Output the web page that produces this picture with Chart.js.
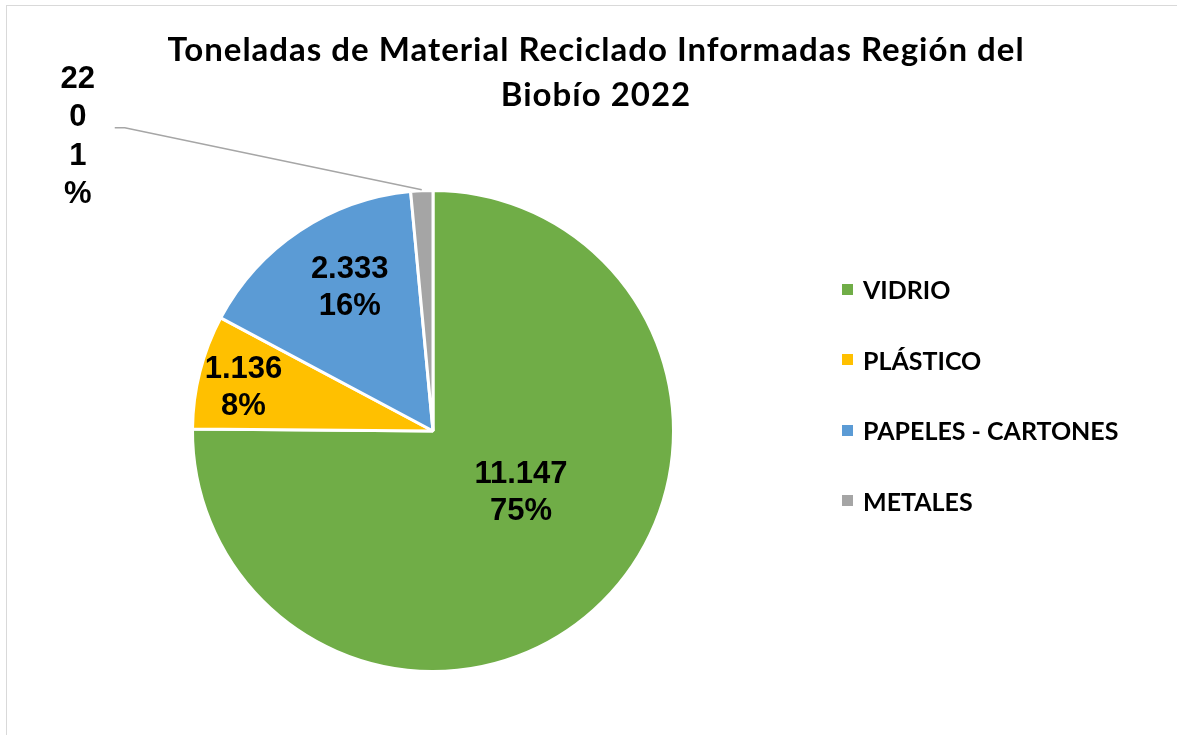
<!DOCTYPE html>
<html>
<head>
<meta charset="utf-8">
<script src="https://cdn.jsdelivr.net/npm/chart.js@4.4.1/dist/chart.umd.min.js"></script>
<style>
  html, body { margin: 0; padding: 0; background: #fff; overflow: hidden; }
  #wrap { position: relative; width: 1177px; height: 735px; }
  #frame { position: absolute; left: 6px; top: 5px; width: 1300px; height: 900px; border: 1px solid #d9d9d9; }
  #title { position: absolute; left: 0; top: 26px; width: 1192px; text-align: center; font: bold 33px Lato, sans-serif; letter-spacing: 1px; line-height: 45px; color: #000; }
  #legend { position: absolute; left: 842px; top: 0; font: bold 25px Lato, sans-serif; color: #000; }
  .item { position: absolute; left: 0; height: 30px; display: flex; align-items: center; white-space: nowrap; }
  .box { width: 11px; height: 11px; margin-right: 10px; }
  canvas { position: absolute; left: 0; top: 0; }
</style>
</head>
<body>
<div id="wrap">
  <div id="frame"></div>
  <canvas id="myChart" width="1177" height="735"></canvas>
  <div id="title">Toneladas de Material Reciclado Informadas Región del<br>Biobío 2022</div>
  <div id="legend"></div>
</div>
<script>
// data
var categories = ['VIDRIO', 'PLÁSTICO', 'PAPELES - CARTONES', 'METALES'];
var toneladas = [11147, 1136, 2333, 220];
var colors = ['#70AD47', '#FFC000', '#5B9BD5', '#A5A5A5'];

function fmtMiles(v) {
    return String(v).replace(/\B(?=(\d{3})+(?!\d))/g, '.');
}

// html legend
var legendEl = document.getElementById('legend');
var legendRows = [289, 359.5, 430, 500.5];
categories.forEach(function(name, i) {
    var row = document.createElement('div');
    row.className = 'item';
    row.style.top = (legendRows[i] - 15) + 'px';
    row.innerHTML = '<span class="box" style="background:' + colors[i] + '"></span><span>' + name + '</span>';
    legendEl.appendChild(row);
});

// labels drawn on the slices (value + percent)
var sliceLabels = {
    id: 'sliceLabels',
    afterDatasetsDraw: function(chart, args, opts) {
        var ctx = chart.ctx;
        var meta = chart.getDatasetMeta(0);
        var values = chart.data.datasets[0].data;
        var sum = values.reduce(function(a, b) { return a + b; }, 0);
        ctx.save();
        ctx.font = opts.font;
        ctx.fillStyle = '#000';
        ctx.textAlign = 'center';
        ctx.textBaseline = 'middle';
        meta.data.forEach(function(arc, i) {
            var p = opts.placement[i];
            var lines = [fmtMiles(values[i]), Math.round(values[i] * 100 / sum) + '%'];
            var mid = (arc.startAngle + arc.endAngle) / 2;
            var cx, cy, lh = opts.lineHeight;
            if (p.outside) {
                // leader line from the slice edge to the label
                var ax = arc.x + Math.cos(mid) * (arc.outerRadius + 1);
                var ay = arc.y + Math.sin(mid) * (arc.outerRadius + 1);
                var ex = ax + p.elbow[0], ey = ay + p.elbow[1];
                ctx.strokeStyle = '#a6a6a6';
                ctx.lineWidth = 1.5;
                ctx.beginPath();
                ctx.moveTo(ax, ay);
                ctx.lineTo(ex, ey);
                ctx.lineTo(ex - p.tail, ey);
                ctx.stroke();
                // the label box is narrow, so the text breaks per char
                var wrapped = [];
                lines.forEach(function(l) {
                    var cur = '';
                    for (var k = 0; k < l.length; k++) {
                        if (cur && ctx.measureText(cur + l[k]).width > p.maxWidth) {
                            wrapped.push(cur);
                            cur = l[k];
                        } else {
                            cur += l[k];
                        }
                    }
                    wrapped.push(cur);
                });
                lines = wrapped;
                cx = ax + p.text[0];
                cy = ay + p.text[1];
                lh = p.lineHeight;
            } else {
                var a = mid + p.da * Math.PI / 180;
                cx = arc.x + Math.cos(a) * arc.outerRadius * p.f;
                cy = arc.y + Math.sin(a) * arc.outerRadius * p.f;
            }
            var y0 = cy - (lines.length - 1) * lh / 2;
            lines.forEach(function(t, k) {
                ctx.fillText(t, cx, y0 + k * lh);
            });
        });
        ctx.restore();
    }
};

var ctx = document.getElementById('myChart').getContext('2d');
var myPieChart = new Chart(ctx, {
    type: 'pie',
    data: {
        labels: categories,
        datasets: [{
            data: toneladas,
            backgroundColor: colors,
            borderColor: '#ffffff',
            borderWidth: 3
        }]
    },
    options: {
        responsive: false,
        animation: false,
        layout: {
            padding: { top: 189, bottom: 62, left: 191, right: 502 }
        },
        plugins: {
            legend: { display: false },
            tooltip: { enabled: false },
            sliceLabels: {
                font: 'bold 31px "Liberation Sans", Arial, sans-serif',
                lineHeight: 37,
                placement: [
                    { f: 0.448, da: -10 },
                    { f: 0.808, da: -1.5 },
                    { f: 0.69, da: 3.5 },
                    { outside: true, elbow: [-297, -62], tail: 10, text: [-344, -53], maxWidth: 40, lineHeight: 38.5 }
                ]
            }
        }
    },
    plugins: [sliceLabels]
});
</script>
</body>
</html>
